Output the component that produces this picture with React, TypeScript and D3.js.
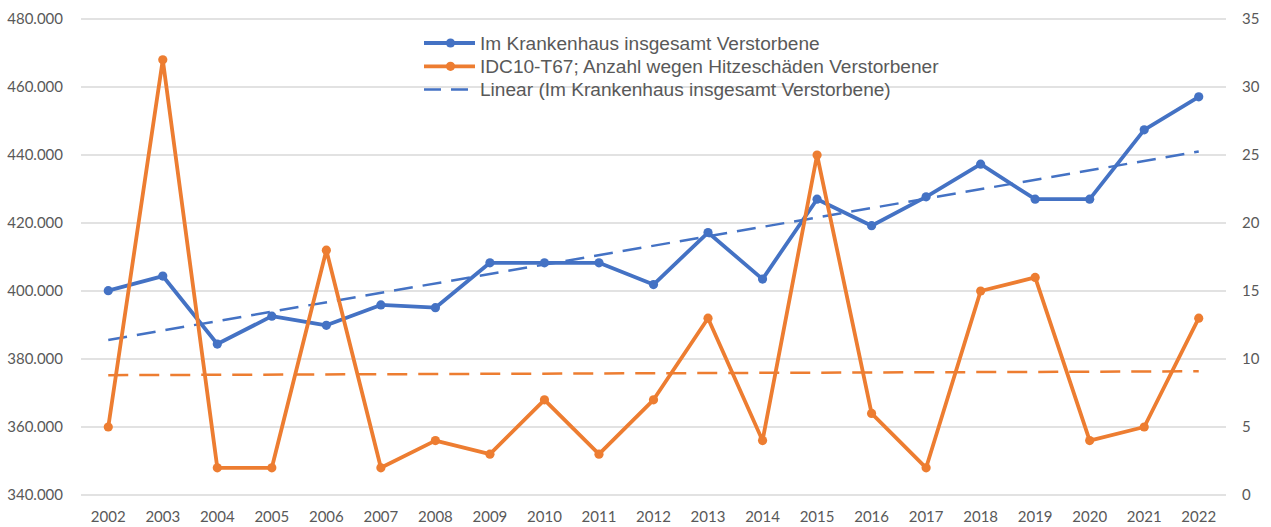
import React from "react";
import * as d3 from "d3";

const years = ["2002","2003","2004","2005","2006","2007","2008","2009","2010","2011","2012","2013","2014","2015","2016","2017","2018","2019","2020","2021","2022"];
const deathsTotal = [400100, 404400, 384400, 392600, 389900, 395900, 395100, 408300, 408300, 408300, 401900, 417200, 403500, 427000, 419200, 427700, 437300, 427000, 427000, 447400, 457100];
const heatDeaths = [5, 32, 2, 2, 18, 2, 4, 3, 7, 3, 7, 13, 4, 25, 6, 2, 15, 16, 4, 5, 13];
const leftTicks = [340000, 360000, 380000, 400000, 420000, 440000, 460000, 480000];
const rightTicks = [0, 5, 10, 15, 20, 25, 30, 35];
const legendLabels = [
  "Im Krankenhaus insgesamt Verstorbene",
  "IDC10-T67; Anzahl wegen Hitzeschäden Verstorbener",
  "Linear (Im Krankenhaus insgesamt Verstorbene)",
];

const BLUE = "#4472C4";
const ORANGE = "#ED7D31";
const GRID = "#D9D9D9";
const TEXT = "#595959";
const FONT = "Lato, 'Liberation Sans', sans-serif";
const LEG_FONT = "'Liberation Sans', Arial, sans-serif";

const de = d3.formatLocale({ decimal: ",", thousands: ".", grouping: [3], currency: ["", "€"] });
const fmtL = de.format(",.0f");

function linReg(vals: number[]) {
  const n = vals.length;
  const xs = vals.map((_, i) => i);
  const mx = d3.mean(xs)!;
  const my = d3.mean(vals)!;
  let num = 0, den = 0;
  xs.forEach((x, i) => { num += (x - mx) * (vals[i] - my); den += (x - mx) * (x - mx); });
  const b = num / den;
  const a = my - b * mx;
  return [a, a + b * (n - 1)];
}

export default function App() {
  const W = 1271, H = 527;
  const left = 81, right = 1226, top = 19, bottom = 495;
  const x = d3.scaleBand<string>().domain(years).range([left, right]);
  const cx = (y: string) => x(y)! + x.bandwidth() / 2;
  const yL = d3.scaleLinear().domain([340000, 480000]).range([bottom, top]);
  const yR = d3.scaleLinear().domain([0, 35]).range([bottom, top]);

  const blueLine = d3.line<number>().x((_, i) => cx(years[i])).y((d) => yL(d));
  const orangeLine = d3.line<number>().x((_, i) => cx(years[i])).y((d) => yR(d));

  const [b0, b1] = linReg(deathsTotal);
  const [o0, o1] = linReg(heatDeaths);
  const x0 = cx(years[0]);
  const x1 = cx(years[years.length - 1]);

  const legX0 = 424, legX1 = 475, legMx = 450.5, legTextX = 480, legY0 = 43, legDy = 23.3;

  return (
    <svg width={W} height={H} style={{ position: "absolute", left: 0, top: 0, background: "#fff" }} fontFamily={FONT}>
      <rect x={0} y={0} width={W} height={H} fill="#fff" />
      {leftTicks.map((t) => (
        <line key={"g" + t} x1={left} x2={right} y1={yL(t)} y2={yL(t)} stroke={GRID} strokeWidth={1.3} />
      ))}
      {leftTicks.map((t) => (
        <text key={"l" + t} x={63} y={yL(t)} dy="0.35em" textAnchor="end" fontSize={15} fill={TEXT}>{fmtL(t)}</text>
      ))}
      {rightTicks.map((t) => (
        <text key={"r" + t} x={1242} y={yR(t)} dy="0.35em" textAnchor="start" fontSize={15} fill={TEXT}>{t}</text>
      ))}
      {years.map((yr) => (
        <text key={"x" + yr} x={cx(yr)} y={522} textAnchor="middle" fontSize={15} fill={TEXT}>{yr}</text>
      ))}

      {/* trendlines */}
      <line x1={x0} x2={x1} y1={yR(o0)} y2={yR(o1)} stroke={ORANGE} strokeWidth={2.5} strokeDasharray="20,11" />
      <line x1={x0} x2={x1} y1={yL(b0)} y2={yL(b1)} stroke={BLUE} strokeWidth={2.5} strokeDasharray="19,10" />

      {/* blue series */}
      <path d={blueLine(deathsTotal)!} fill="none" stroke={BLUE} strokeWidth={3.8} strokeLinejoin="round" />
      {deathsTotal.map((v, i) => (
        <circle key={"bc" + i} cx={cx(years[i])} cy={yL(v)} r={4.6} fill={BLUE} />
      ))}

      {/* orange series */}
      <path d={orangeLine(heatDeaths)!} fill="none" stroke={ORANGE} strokeWidth={3.8} strokeLinejoin="round" />
      {heatDeaths.map((v, i) => (
        <circle key={"oc" + i} cx={cx(years[i])} cy={yR(v)} r={4.6} fill={ORANGE} />
      ))}

      {/* legend */}
      <g>
        <line x1={legX0} x2={legX1} y1={legY0} y2={legY0} stroke={BLUE} strokeWidth={3.8} />
        <circle cx={legMx} cy={legY0} r={4.6} fill={BLUE} />
        <line x1={legX0} x2={legX1} y1={legY0 + legDy} y2={legY0 + legDy} stroke={ORANGE} strokeWidth={3.8} />
        <circle cx={legMx} cy={legY0 + legDy} r={4.6} fill={ORANGE} />
        <line x1={legX0} x2={legX1} y1={legY0 + 2 * legDy} y2={legY0 + 2 * legDy} stroke={BLUE} strokeWidth={2.5} strokeDasharray="17,10" />
        {legendLabels.map((l, i) => (
          <text key={"lg" + i} x={legTextX} y={legY0 + i * legDy} dy="0.35em" fontSize={19.1} fontFamily={LEG_FONT} fill={TEXT}>{l}</text>
        ))}
      </g>
    </svg>
  );
}
